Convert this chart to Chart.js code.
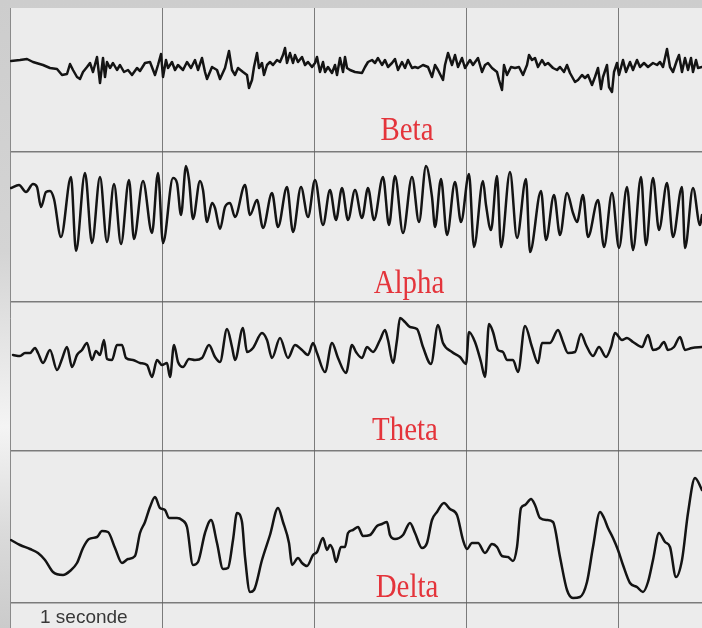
<!DOCTYPE html>
<html>
<head>
<meta charset="utf-8">
<title>EEG - rythmes cérébraux</title>
<script src="https://cdn.jsdelivr.net/npm/chart.js@4.4.1/dist/chart.umd.min.js"></script>
<style>
    html, body { margin: 0; padding: 0; }
    body {
        width: 702px;
        height: 628px;
        overflow: hidden;
        position: relative;
        background: linear-gradient(to bottom, #cdcdcd 0%, #d4d4d4 40%, #f4f4f4 68%, #dadada 85%, #cbcbcb 100%);
    }
    #eegChart {
        position: absolute;
        left: 10px;
        top: 8px;
        background: #ececec;
    }
</style>
</head>
<body>
<canvas id="eegChart" width="692" height="620"></canvas>
<script>
// Trace samples: time in samples (152 per second), amplitude in µV-like units
const SAMPLE_RATE = 152;

const betaTime = [
    1, 10, 17, 23, 33, 40, 47, 52, 57, 60,
    63, 67, 70, 73, 77, 80, 83, 87, 90, 93,
    95, 97, 100, 103, 107, 110, 114, 118, 122, 127,
    130, 135, 140, 145, 148, 151, 153, 156, 158, 162,
    165, 168, 173, 177, 181, 185, 188, 192, 195, 197,
    202, 207, 210, 215, 219, 222, 225, 228, 233, 237,
    239, 242, 244, 247, 249, 252, 254, 257, 260, 263,
    267, 270, 273, 275, 277, 280, 283, 285, 288, 292,
    295, 298, 302, 305, 307, 310, 313, 315, 318, 322,
    325, 327, 330, 333, 335, 337, 340, 345, 352, 355,
    358, 362, 365, 368, 372, 375, 378, 382, 385, 388,
    392, 395, 398, 402, 405, 408, 413, 418, 422, 425,
    428, 433, 435, 438, 442, 445, 448, 452, 455, 458,
    460, 463, 468, 472, 475, 478, 482, 487, 489, 492,
    494, 497, 501, 505, 509, 513, 517, 519, 522, 525,
    528, 532, 535, 538, 543, 547, 550, 554, 557, 560,
    565, 568, 572, 575, 578, 582, 585, 588, 591, 593,
    597, 599, 602, 604, 607, 609, 613, 616, 620, 623,
    627, 630, 634, 638, 643, 647, 650, 653, 657, 660,
    663, 667, 669, 672, 675, 678, 681, 683, 686, 688,
    692
];
const betaAmp = [
    9, 10, 11, 8, 5, 2, 1, -5, -4, 6,
    0, -7, -9, -2, 3, 7, -2, 13, -13, 12,
    -7, 8, 2, 7, 0, 5, -2, 0, -5, 2,
    -1, 7, 8, -5, 5, 16, -7, 10, 2, 8,
    0, 5, 0, 8, 2, 10, 0, 12, -2, -9,
    3, 0, -9, 2, 19, 0, -5, 2, -2, -5,
    -18, -10, 3, 17, 2, 7, -5, 5, 8, 5,
    10, 8, 15, 22, 7, 17, 7, 15, 8, 13,
    5, 8, 3, 7, 13, -2, 8, -2, 3, -3,
    5, -5, 12, -2, 13, 2, 0, -2, -3, 3,
    8, 10, 7, 12, 5, 10, 3, 7, 11, 0,
    8, 2, 10, 2, 3, 2, 5, 3, -7, 5,
    0, -10, 5, 17, 5, 15, 3, 12, 2, 7,
    10, 5, 12, -2, 5, 7, 2, -2, -10, -20,
    5, -5, 3, 2, 3, -5, 5, 15, 10, 12,
    3, 10, 5, 7, 2, 0, 3, -2, 5, -3,
    -12, -10, -5, -8, -5, -15, -7, 2, -19, -7,
    5, -17, -22, -2, 7, -5, 10, -2, 8, 0,
    10, 3, 7, 3, 7, 5, 8, 3, 21, 3,
    -2, 10, 15, -2, 12, 0, 12, -2, 10, 2,
    3
];

const alphaTime = [
    1, 9, 16, 23, 27, 31, 36, 40, 44, 51,
    61, 66, 75, 82, 90, 97, 104, 111, 119, 124,
    133, 142, 148, 153, 163, 167, 171, 176, 179, 183,
    190, 193, 197, 202, 205, 210, 215, 220, 225, 235,
    240, 247, 253, 262, 268, 277, 283, 291, 298, 305,
    313, 320, 326, 332, 338, 345, 352, 358, 364, 373,
    379, 385, 393, 402, 409, 416, 422, 425, 431, 437,
    445, 451, 459, 464, 473, 476, 481, 487, 491, 500,
    507, 516, 520, 531, 536, 544, 550, 557, 563, 567,
    573, 578, 588, 594, 602, 609, 617, 623, 631, 636,
    643, 649, 657, 663, 672, 675, 683, 690, 692
];
const alphaAmp = [
    12, 15, 8, 16, 13, -7, 8, 9, 1, -37,
    23, -51, 27, -43, 23, -42, 16, -44, 20, -39,
    19, -33, 27, -43, 22, 17, -15, 34, 20, -19,
    19, 10, -22, -3, -8, -29, -7, -3, -17, 15,
    -15, 0, -28, 7, -27, 13, -32, 13, -17, 20,
    -25, 10, -20, 12, -20, 10, -18, 12, -20, 23,
    -25, 24, -33, 23, -22, 34, 3, -27, 21, -35,
    18, -22, 26, -47, 19, -5, -30, 24, -47, 28,
    -38, 21, -52, 9, -40, 5, -35, 7, -13, -22,
    5, -37, 0, -47, 7, -48, 13, -50, 23, -45,
    22, -30, 17, -37, 13, -48, 12, -25, -15
];

const thetaTime = [
    3, 10, 15, 20, 25, 28, 33, 40, 47, 52,
    57, 62, 67, 72, 77, 82, 86, 90, 94, 97,
    102, 107, 112, 116, 123, 130, 137, 142, 147, 152,
    157, 160, 164, 168, 173, 179, 185, 192, 199, 205,
    210, 217, 222, 225, 233, 237, 243, 252, 257, 262,
    270, 278, 285, 292, 298, 303, 307, 315, 322, 328,
    336, 342, 346, 352, 357, 363, 370, 375, 378, 383,
    387, 390, 395, 400, 407, 413, 421, 428, 433, 442,
    450, 456, 459, 465, 471, 475, 479, 483, 488, 493,
    497, 503, 508, 515, 522, 528, 532, 540, 548, 553,
    558, 565, 571, 576, 583, 589, 596, 601, 605, 612,
    617, 623, 632, 638, 643, 649, 654, 658, 664, 670,
    675, 682, 692
];
const thetaAmp = [
    -5, -6, -3, -3, 2, -3, -13, 0, -20, -9,
    3, -17, -5, 0, 7, -10, -1, -5, 10, -9,
    -10, 5, 5, -8, -10, -13, -15, -27, -10, -15,
    -13, -27, 5, -12, -17, -9, -10, -8, 5, -7,
    -12, 21, 3, -10, 22, -2, 2, 17, 10, -8,
    12, -8, 5, 0, -5, 7, -3, -22, 7, -8,
    -23, 5, -2, -8, 3, -2, 10, 20, 10, -13,
    10, 32, 28, 23, 21, 3, -14, 25, 7, -2,
    -7, -14, 18, 8, -12, -27, 26, 18, 0, -2,
    -10, -10, -22, 24, 3, -13, 7, 7, 20, 8,
    -3, -2, 16, 5, -6, 3, -7, 3, 17, 10,
    12, 8, 3, 15, 0, 2, 8, 0, 3, 13,
    0, 2, 3
];

const deltaTime = [
    1, 10, 20, 28, 35, 43, 53, 60, 67, 73,
    79, 87, 92, 98, 105, 112, 118, 125, 130, 135,
    140, 145, 150, 155, 159, 167, 172, 177, 183, 188,
    195, 201, 207, 213, 218, 223, 227, 232, 235, 240,
    244, 252, 260, 268, 273, 279, 282, 288, 292, 297,
    303, 307, 313, 317, 320, 323, 326, 331, 335, 338,
    343, 348, 353, 360, 367, 372, 377, 380, 385, 393,
    400, 405, 412, 417, 422, 427, 434, 440, 447, 453,
    457, 462, 468, 475, 482, 487, 492, 498, 503, 507,
    511, 515, 521, 525, 530, 537, 543, 550, 557, 563,
    570, 577, 583, 590, 594, 598, 603, 608, 613, 620,
    627, 633, 638, 643, 649, 655, 660, 666, 672, 678,
    685, 692
];
const deltaAmp = [
    -10, -15, -19, -23, -30, -42, -45, -41, -33, -18,
    -9, -7, -1, -2, -18, -33, -29, -26, -3, 8,
    23, 33, 22, 20, 12, 12, 10, 3, -35, -32,
    -3, 10, -13, -39, -38, -10, 17, 8, -27, -62,
    -60, -30, -5, 22, 8, -13, -35, -28, -33, -36,
    -25, -22, -8, -20, -15, -20, -32, -17, -17, -3,
    0, 3, -6, -5, 4, 6, 8, -5, -9, -5,
    7, -3, -18, -13, 10, 18, 27, 21, 15, -10,
    -19, -13, -13, -23, -14, -17, -26, -27, -31, -17,
    22, 25, 31, 25, 12, 10, 8, -27, -60, -68,
    -67, -52, -17, 18, 12, 2, -8, -20, -35, -53,
    -57, -62, -52, -30, -3, -12, -17, -47, -30, 17,
    52, 40
];

const channelNames = ['Beta', 'Alpha', 'Theta', 'Delta'];

// Layout of the paper: zero line of each trace, row borders, label spots
const rowCentres = [558, 428, 278, 98];
const rowBorders = [25, 177, 326, 476];
const labelSpots = [
    { t: 397, y: 488 },
    { t: 399, y: 335 },
    { t: 395, y: 188 },
    { t: 397, y: 31 }
];

function buildTrace(times, amps, centre) {
    return times.map(function(s, i) {
        return { x: s / SAMPLE_RATE, y: centre + amps[i] };
    });
}

const traces = [
    { times: betaTime, amps: betaAmp, smooth: false },
    { times: alphaTime, amps: alphaAmp, smooth: true },
    { times: thetaTime, amps: thetaAmp, smooth: true },
    { times: deltaTime, amps: deltaAmp, smooth: true }
];

const datasets = traces.map(function(tr, i) {
    return {
        label: channelNames[i],
        data: buildTrace(tr.times, tr.amps, rowCentres[i]),
        borderColor: '#141414',
        borderWidth: 2.5,
        pointRadius: 0,
        fill: false,
        tension: tr.smooth ? 0.4 : 0,
        cubicInterpolationMode: tr.smooth ? 'monotone' : 'default',
        borderJoinStyle: 'round',
        borderCapStyle: 'round'
    };
});

// Red wave names and the time scale note
const paperLabels = {
    id: 'paperLabels',
    afterDraw: function(chart) {
        const ctx = chart.ctx;
        const xs = chart.scales.x;
        const ys = chart.scales.y;
        ctx.save();
        ctx.fillStyle = '#e4343b';
        ctx.font = '34px "Liberation Serif", serif';
        ctx.textAlign = 'center';
        ctx.textBaseline = 'alphabetic';
        channelNames.forEach(function(name, i) {
            const px = xs.getPixelForValue(labelSpots[i].t / SAMPLE_RATE);
            const py = ys.getPixelForValue(labelSpots[i].y);
            ctx.save();
            ctx.translate(px, py);
            ctx.scale(0.85, 1);
            ctx.fillText(name, 0, 0);
            ctx.restore();
        });
        ctx.fillStyle = '#383838';
        ctx.font = '19px "Liberation Sans", sans-serif';
        ctx.textAlign = 'left';
        ctx.fillText('1 seconde', xs.getPixelForValue(30 / SAMPLE_RATE), ys.getPixelForValue(5));
        ctx.restore();
    }
};

new Chart(document.getElementById('eegChart'), {
    type: 'line',
    data: { datasets: datasets },
    options: {
        responsive: false,
        animation: false,
        devicePixelRatio: 1,
        parsing: false,
        layout: { padding: 0 },
        scales: {
            x: {
                type: 'linear',
                min: 0,
                max: 692 / SAMPLE_RATE,
                afterBuildTicks: function(scale) {
                    scale.ticks = [1, 2, 3, 4].map(function(v) { return { value: v }; });
                },
                ticks: { display: false },
                grid: { color: 'rgba(95,95,95,0.8)', lineWidth: 1, drawTicks: false },
                border: { display: false }
            },
            y: {
                type: 'linear',
                min: 0,
                max: 620,
                afterBuildTicks: function(scale) {
                    scale.ticks = rowBorders.map(function(v) { return { value: v }; });
                },
                ticks: { display: false },
                grid: { color: 'rgba(95,95,95,0.8)', lineWidth: 1.5, drawTicks: false },
                border: { display: true, color: '#8a8a8a', width: 1 }
            }
        },
        plugins: {
            legend: { display: false },
            tooltip: { enabled: false }
        }
    },
    plugins: [paperLabels]
});
</script>
</body>
</html>
